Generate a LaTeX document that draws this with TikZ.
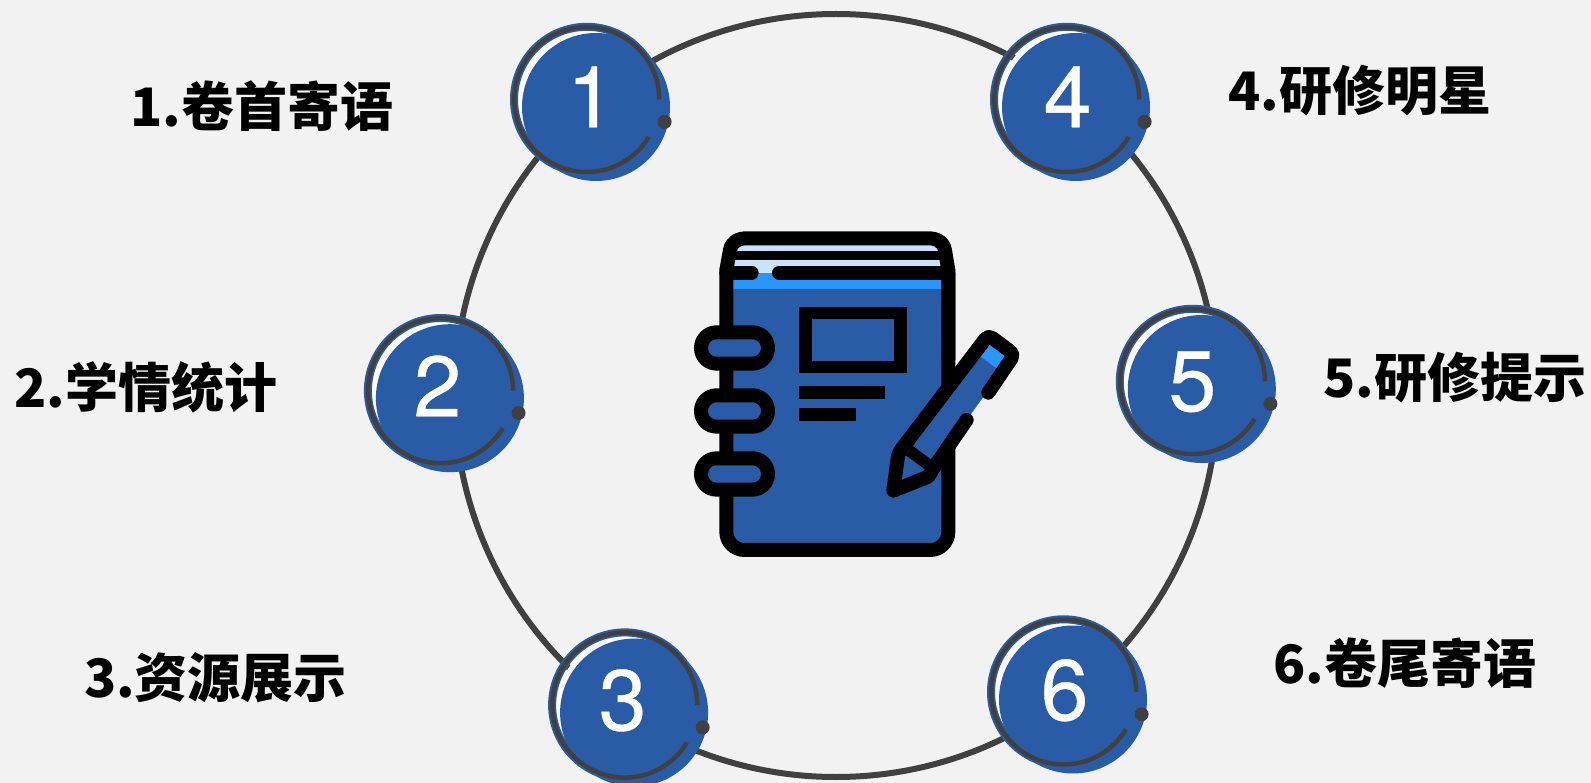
\documentclass[tikz,border=0pt]{standalone}
\usepackage{fontspec}
\usepackage{xcolor}
\newfontfamily\cjkfont{Noto Sans CJK SC}
\newfontfamily\numfont[FakeBold=0.4]{TeX Gyre Heros}
\definecolor{nbblue}{HTML}{2A5BA6}
\definecolor{nbsky}{HTML}{2B95F9}
\definecolor{nbpale}{HTML}{C9E3FD}
\definecolor{nbdark}{HTML}{404040}
\definecolor{nbback}{HTML}{F2F2F2}
\begin{document}
\begin{tikzpicture}[
  x=1pt,y=-1pt,
  bigring/.style={draw=nbdark,line width=6pt,circle,inner sep=0pt,minimum size=763pt},
  lbl/.style={inner sep=0pt,text=black,font=\cjkfont\bfseries\fontsize{53}{60}\selectfont},
  num/.style={inner sep=0pt,text=white,font=\numfont\fontsize{86}{90}\selectfont},
  dot/.style={fill=nbdark,circle,inner sep=0pt,minimum size=14pt},
  ink/.style={draw=black,line width=14pt,line join=round},
  badge/.pic={
    \fill[white] (3,3) circle[radius=71.5];
    \draw[nbblue,line width=8pt] (0,0) circle[radius=72.7];
    \fill[nbblue] (9.3,7.5) circle[radius=74];
    \draw[nbdark,line width=4.5pt] (72.5,0) arc (0:-329:72.5);
    \node[dot] (-d) at (77.9,22.3) {};
  }]
\useasboundingbox[fill=nbback] (0,0) rectangle (1591,783);
\node[bigring] (hub) at (836,395.5) {};
\pic (b1) at (586.7,99.5) {badge};
\pic (b2) at (440.6,390.7) {badge};
\pic (b3) at (624.8,705.1) {badge};
\pic (b4) at (1066.7,99.5) {badge};
\pic (b5) at (1192.5,381.5) {badge};
\pic (b6) at (1063.7,692) {badge};
\node[num] (n1) at (591,96.8) {1};
\node[num] (n2) at (437.5,386) {2};
\node[num] (n3) at (622.7,700.4) {3};
\node[num] (n4) at (1067.6,96.8) {4};
\node[num] (n5) at (1192.4,381.8) {5};
\node[num] (n6) at (1064.6,690.3) {6};
\node[lbl] (t1) at (262,106.5) {1.卷首寄语};
\node[lbl] (t2) at (146,387) {2.学情统计};
\node[lbl] (t3) at (215.5,678) {3.资源展示};
\node[lbl] (t4) at (1360,91) {4.研修明星};
\node[lbl] (t5) at (1455,377.5) {5.研修提示};
\node[lbl] (t6) at (1405,663) {6.卷尾寄语};
\begin{scope}[shift={(680,220)},x=0.3333pt,y=-0.3333pt]
\fill[nbblue,rounded corners=18pt] (139,160) rectangle (805,990);
\fill[nbsky] (139,158) rectangle (805,207);
\fill[nbpale] (139,158) -- (150,90) .. controls (155,65) and (175,55) .. (200,55) -- (745,55) .. controls (770,55) and (790,65) .. (795,90) -- (805,158) -- cycle;
\fill[nbsky] (225,158) rectangle (290,180);
\draw[ink,rounded corners=18pt] (139,420) -- (139,990) -- (805,990) -- (805,160);
\draw[ink] (139,420) -- (139,150) -- (150,90) .. controls (155,65) and (175,55) .. (200,55) -- (745,55) .. controls (770,55) and (790,65) .. (795,90) -- (805,150) -- (805,420);
\draw[draw=black,line width=9pt] (150,107) -- (792,107);
\draw[ink,line cap=round] (139,158) -- (215,158);
\draw[ink,line cap=round] (297,158) -- (805,158);
\draw[ink,fill=nbblue,rounded corners=15.6pt] (63,337) rectangle (264,431);
\draw[ink,fill=nbblue,rounded corners=15.6pt] (63,526) rectangle (264,620);
\draw[ink,fill=nbblue,rounded corners=15.6pt] (63,715) rectangle (264,809);
\draw[draw=black,line width=12.7pt,fill=nbblue] (376.5,279) rectangle (661.5,441);
\fill[black] (357,498) rectangle (615,537);
\fill[black] (357,564) rectangle (528,603);
\fill[nbblue] (655,700) -- (925,345) -- (1003,403) -- (860,600) -- (760,745) -- (745,770) -- (640,812) -- cycle;
\fill[nbsky] (930,368) -- (978,405) -- (950,445) -- (900,408) -- cycle;
\draw[ink,line cap=round] [rounded corners=5pt] (925,518) -- (1003,403) -- (925,345) -- (655,700) [sharp corners] -- (640,812) -- (745,770) -- (760,745) -- (860,600);
\draw[draw=black,line width=11.7pt] (688,692) -- (760,745);
\end{scope}
\end{tikzpicture}
\end{document}
